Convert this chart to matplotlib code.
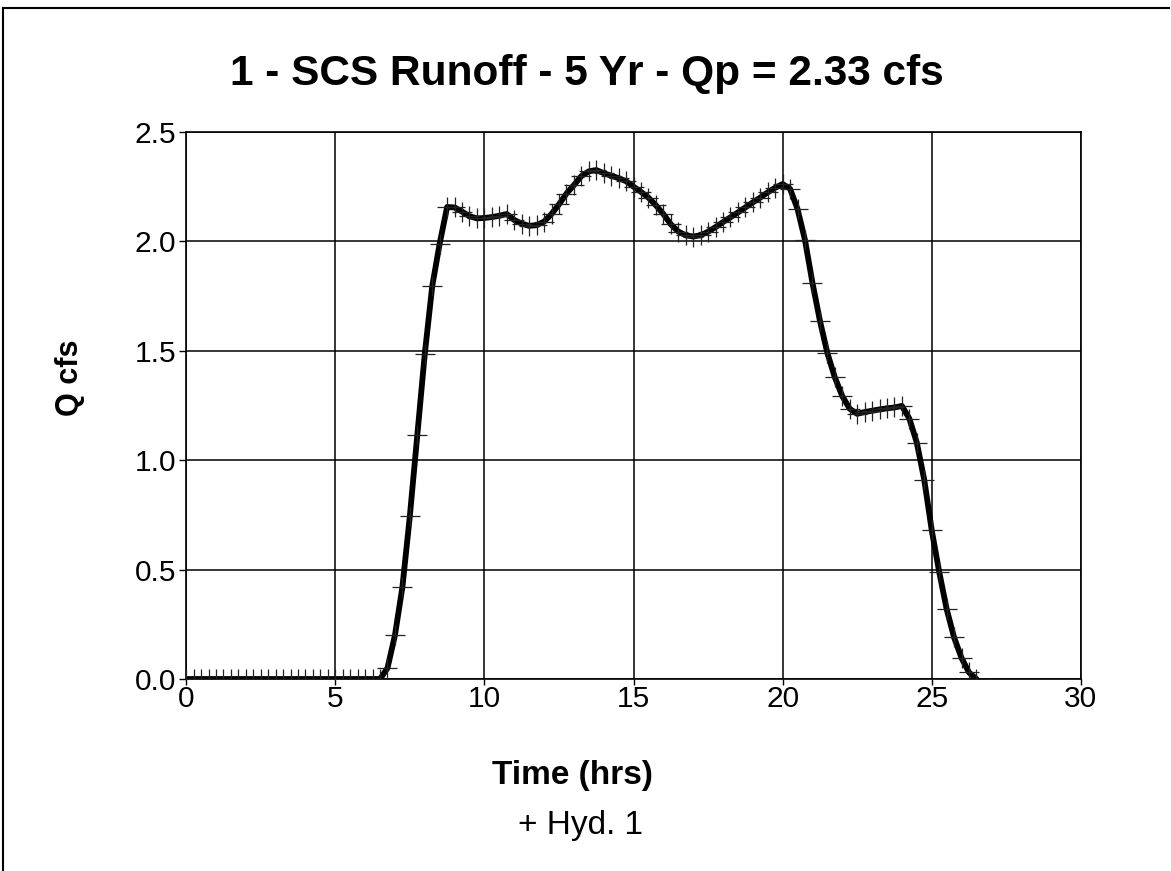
import matplotlib
matplotlib.use("Agg")
import matplotlib.pyplot as plt
from matplotlib.lines import Line2D

plt.rcParams['font.family'] = ['Liberation Sans', 'DejaVu Sans']

# Hydrograph ordinates, one every 0.25 hr starting at t = 0
dt_hr = 0.25
q_cfs = [
    0, 0, 0, 0, 0, 0, 0, 0, 0, 0, 0, 0, 0, 0, 0, 0, 0, 0, 0, 0, 0, 0, 0, 0, 0, 0, 0,
    0.05, 0.20, 0.42, 0.745, 1.115, 1.485, 1.795, 1.99, 2.157,
    2.155, 2.136, 2.115, 2.105, 2.107, 2.111, 2.117, 2.125,
    2.098, 2.081, 2.071, 2.074, 2.09, 2.125, 2.169, 2.218,
    2.257, 2.298, 2.32, 2.326, 2.312, 2.30, 2.289, 2.275,
    2.25, 2.226, 2.20, 2.165, 2.125, 2.078, 2.045, 2.028,
    2.022, 2.028, 2.044, 2.065, 2.088, 2.11, 2.132, 2.155,
    2.178, 2.20, 2.224, 2.245, 2.262, 2.24, 2.148, 2.006,
    1.811, 1.638, 1.49, 1.379, 1.293, 1.235, 1.212, 1.22,
    1.226, 1.232, 1.237, 1.241, 1.248, 1.19, 1.08, 0.91,
    0.68, 0.49, 0.32, 0.19, 0.096, 0.03, 0.0,
]
time_hr = [i * dt_hr for i in range(len(q_cfs))]

x_ticks = [0, 5, 10, 15, 20, 25, 30]
y_ticks = [0.0, 0.5, 1.0, 1.5, 2.0, 2.5]
y_tick_labels = ["0.0", "0.5", "1.0", "1.5", "2.0", "2.5"]

title = "1 - SCS Runoff - 5 Yr - Qp = 2.33 cfs"
x_label = "Time (hrs)"
y_label = "Q cfs"
legend_label = "Hyd. 1"

fig = plt.figure(figsize=(11.71, 8.71), dpi=100)
ax = fig.add_axes([0.159, 0.2204, 0.764, 0.6281])

ax.plot(time_hr, q_cfs, color='black', linewidth=4.2, solid_capstyle='round',
        solid_joinstyle='round', zorder=3)
ax.plot(time_hr, q_cfs, linestyle='none', marker='+', markersize=15,
        markeredgewidth=0.9, color='#222222', zorder=4)

ax.set_xlim(0, 30)
ax.set_ylim(0, 2.5)
ax.set_xticks(x_ticks)
ax.set_yticks(y_ticks)
ax.set_yticklabels(y_tick_labels)
ax.tick_params(axis='y', labelsize=21.5, direction='out', length=5, width=1,
               color='black', pad=2)
ax.tick_params(axis='x', labelsize=21.5, direction='out', length=4, width=1,
               color='black', pad=0)
ax.grid(True, color='black', linewidth=1.1)
for s in ax.spines.values():
    s.set_color('black')
    s.set_linewidth(1.2)

ax.set_title(title, fontsize=30.5, fontweight='bold', pad=34, x=0.448)
ax.set_xlabel(x_label, fontsize=24, fontweight='bold', va='center')
ax.xaxis.set_label_coords(0.432, -0.1755)
ax.set_ylabel(y_label, fontsize=22, fontweight='bold', va='center')
ax.yaxis.set_label_coords(-0.1296, 0.55)

fig.text(0.496, 0.052, "+ " + legend_label, fontsize=24, ha='center', va='center')

# figure frame (top and left edges)
fig.add_artist(Line2D([0.0026, 0.998], [0.991, 0.991], transform=fig.transFigure,
                      color='black', linewidth=1.5))
fig.add_artist(Line2D([0.0026, 0.0026], [0.0, 0.991], transform=fig.transFigure,
                      color='black', linewidth=1.5))

fig.savefig("out.png", dpi=100, facecolor='white')
